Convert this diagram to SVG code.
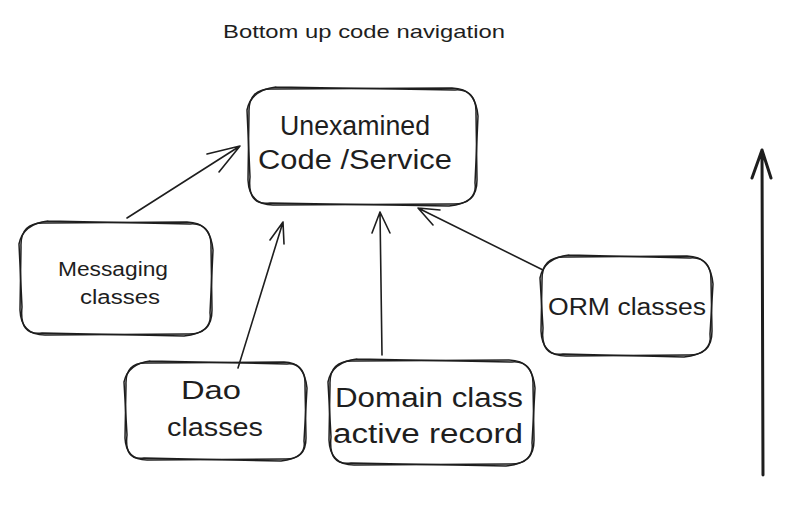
<svg xmlns="http://www.w3.org/2000/svg" width="800" height="517" viewBox="0 0 800 517">
<style>
.bx{fill:none;stroke:#1e1e1e;stroke-width:1.5;stroke-linecap:round;stroke-linejoin:round}
.ln{fill:none;stroke:#1e1e1e;stroke-width:1.6;stroke-linecap:round;stroke-linejoin:round}
.big{fill:none;stroke:#1e1e1e;stroke-width:3;stroke-linecap:round;stroke-linejoin:round}
text{font-family:"Liberation Sans","DejaVu Sans",sans-serif;fill:#1e1e1e;text-anchor:middle}
</style>
<rect width="800" height="517" fill="#ffffff"/>
<g id="title"><text x="364" y="38" font-size="19" textLength="282" lengthAdjust="spacingAndGlyphs">Bottom up code navigation</text></g>
<g id="main">
<path class="bx" d="M273,89 L452,88 Q477,89 476,113 L477,180 Q477,205 452,204 L273,205 Q249,205 248,180 L249,113 Q248,88 273,89"/>
<path class="bx" d="M276,87 L455,90 Q475,88 478,116 L475,183 Q478,203 449,206 L270,203 Q247,206 250,177 L247,110 Q251,90 276,87"/>
<text x="355" y="135" font-size="27" textLength="150" lengthAdjust="spacingAndGlyphs">Unexamined</text>
<text x="355" y="169" font-size="27" textLength="194" lengthAdjust="spacingAndGlyphs">Code /Service</text>
</g>
<g id="messaging">
<path class="bx" d="M45,223 L187,222 Q212,223 211,247 L212,310 Q212,335 187,334 L45,335 Q21,335 20,310 L21,247 Q20,222 45,223"/>
<path class="bx" d="M48,221 L190,224 Q210,222 213,250 L210,313 Q213,333 184,336 L42,333 Q19,336 22,307 L19,244 Q23,224 48,221"/>
<text x="113" y="276" font-size="20" textLength="110" lengthAdjust="spacingAndGlyphs">Messaging</text>
<text x="120" y="304" font-size="20" textLength="80" lengthAdjust="spacingAndGlyphs">classes</text>
</g>
<g id="orm">
<path class="bx" d="M566,257 L687,256 Q712,257 711,281 L712,331 Q712,356 687,355 L566,356 Q542,356 541,331 L542,281 Q541,256 566,257"/>
<path class="bx" d="M569,255 L690,258 Q710,256 713,284 L710,334 Q713,354 684,357 L563,354 Q540,357 543,328 L540,278 Q544,258 569,255"/>
<text x="627" y="315" font-size="23" textLength="158" lengthAdjust="spacingAndGlyphs">ORM classes</text>
</g>
<g id="dao">
<path class="bx" d="M147,363 L284,362 Q306,363 305,385 L306,438 Q306,460 284,459 L147,460 Q126,460 125,438 L126,385 Q125,362 147,363"/>
<path class="bx" d="M150,361 L287,364 Q304,362 307,388 L304,441 Q307,458 281,461 L144,458 Q124,461 127,435 L124,382 Q128,364 150,361"/>
<text x="211" y="399" font-size="26" textLength="60" lengthAdjust="spacingAndGlyphs">Dao</text>
<text x="215" y="436" font-size="26" textLength="96" lengthAdjust="spacingAndGlyphs">classes</text>
</g>
<g id="domain">
<path class="bx" d="M354,361 L509,360 Q534,361 533,385 L534,440 Q534,465 509,464 L354,465 Q330,465 329,440 L330,385 Q329,360 354,361"/>
<path class="bx" d="M357,359 L512,362 Q532,360 535,388 L532,443 Q535,463 506,466 L351,463 Q328,466 331,437 L328,382 Q332,362 357,359"/>
<text x="429" y="407" font-size="27" textLength="188" lengthAdjust="spacingAndGlyphs">Domain class</text>
<text x="428" y="443" font-size="27" textLength="190" lengthAdjust="spacingAndGlyphs">active record</text>
</g>
<g id="connectors">
<path class="ln" d="M127,218 L240,146 M240,146 L207,154 M240,146 L219,172"/>
<path class="ln" d="M238,368 L283,222 M283,222 L270,240 M283,222 L284,244"/>
<path class="ln" d="M382,355 L380,212 M380,212 L372,233 M380,212 L390,233"/>
<path class="ln" d="M543,270 L418,208 M418,208 L433,225 M418,208 L440,210"/>
<path class="big" d="M763,475 L762,150 M762,150 L752,178 M762,150 L771,178"/>
</g>
</svg>
